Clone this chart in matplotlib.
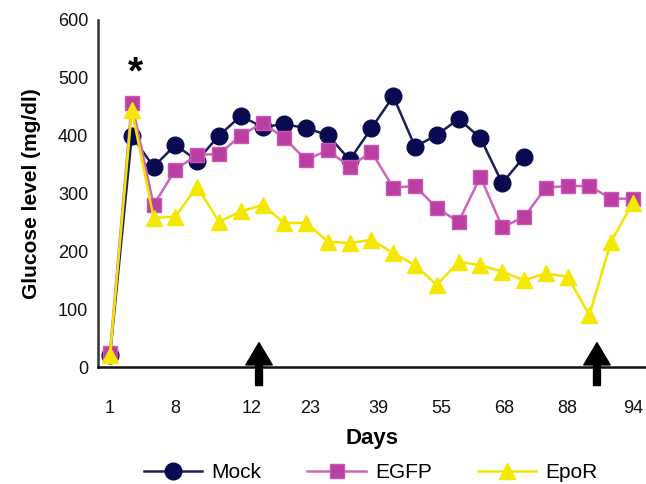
import matplotlib
matplotlib.use('Agg')
import matplotlib.pyplot as plt
import numpy as np

plt.rcParams['font.family'] = ['Liberation Sans', 'DejaVu Sans']

# Werte (mg/dl), eine Messung pro Zeitpunkt
mock = [20, 400, 346, 384, 357, 400, 434, 415, 420, 413, 401, 358, 413,
        468, 381, 401, 429, 396, 318, 363]
egfp = [25, 457, 280, 341, 367, 368, 400, 422, 396, 358, 375, 346, 372,
        310, 313, 275, 251, 329, 242, 259, 310, 313, 313, 291, 291]
epor = [20, 445, 258, 260, 312, 251, 269, 280, 249, 249, 217, 214, 220,
        197, 176, 142, 182, 176, 165, 150, 162, 156, 90, 217, 284]

day_labels = ["1", "8", "12", "23", "39", "55", "68", "88", "94"]
day_label_pos = [0, 3, 6.5, 9.2, 12.3, 15.2, 18.1, 21, 24]
arrow_pos = [6.84, 22.35]

fig = plt.figure(figsize=(6.46, 4.84), dpi=100)
ax = fig.add_axes([0.1517, 0.2417, 0.8483, 0.717])

x_mock = np.arange(len(mock))
x_all = np.arange(len(egfp))

ax.plot(x_mock, mock, color='#1e1e5c', lw=1.8, marker='o', ms=12,
        mfc='#0a0a50', mec='#0a0a50', label='Mock', zorder=3)
ax.plot(x_all, egfp, color='#cc66bb', lw=1.8, marker='s', ms=10.5,
        mfc='#bb3fa3', mec='#cc55b5', label='EGFP', zorder=4)
ax.plot(x_all, epor, color='#f2e400', lw=1.8, marker='^', ms=12,
        mfc='#f5e800', mec='#f5e800', label='EpoR', zorder=5)

ax.set_xlim(-0.55, 24.6)
ax.set_ylim(0, 600)
ax.set_yticks(range(0, 601, 100))
ax.set_xticks(day_label_pos)
ax.set_xticklabels(day_labels)
ax.tick_params(axis='both', length=0, labelsize=13, colors='#111111')
ax.tick_params(axis='x', pad=24)
ax.tick_params(axis='y', pad=7)

for s in ['top', 'right']:
    ax.spines[s].set_visible(False)
ax.spines['left'].set_color('#333333')
ax.spines['left'].set_linewidth(1.8)
ax.spines['bottom'].set_color('#111111')
ax.spines['bottom'].set_linewidth(1.8)

ax.set_ylabel('Glucose level (mg/dl)', fontsize=15, fontweight='bold',
              labelpad=12)
ax.set_xlabel('Days', fontsize=16, fontweight='bold', labelpad=8)

# Stern über dem ersten Peak
ax.text(1.15, 508, '*', fontsize=28, fontweight='bold', ha='center',
        va='center')

# Pfeile unter der x-Achse
for xp in arrow_pos:
    ax.annotate('', xy=(xp, 42), xytext=(xp, -32),
                arrowprops=dict(facecolor='black', edgecolor='black',
                                width=5, headwidth=19, headlength=16,
                                shrink=0),
                annotation_clip=False, zorder=6)

fig.legend(loc='lower center', bbox_to_anchor=(0.574, -0.035), ncol=3,
           frameon=False, fontsize=15, handlelength=2.8,
           columnspacing=2.2, handletextpad=0.45)

fig.savefig('out.png', dpi=100)
